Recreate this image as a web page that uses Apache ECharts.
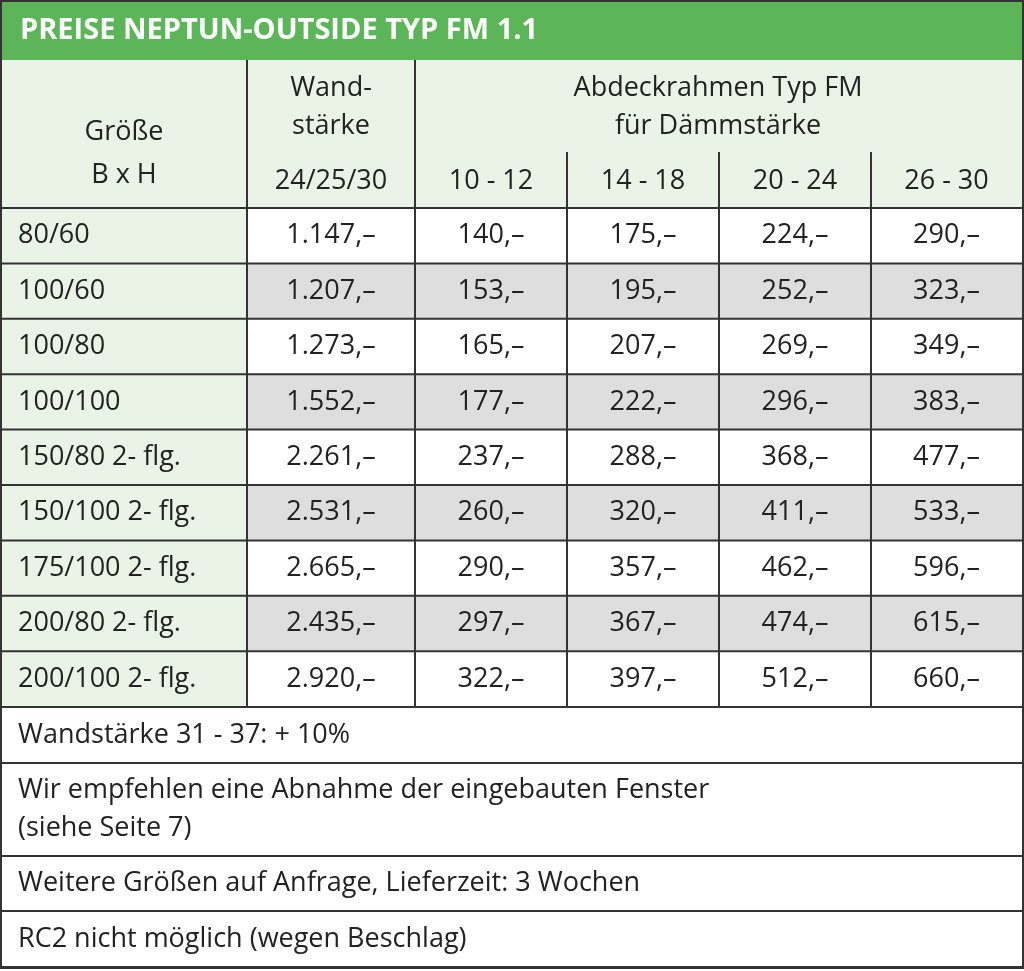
<!DOCTYPE html>
<html>
<head>
<meta charset="utf-8">
<script src="https://cdn.jsdelivr.net/npm/echarts@6/dist/echarts.min.js"></script>
<style>html,body{margin:0;padding:0;background:#fff}#chart{width:1024px;height:971px}</style>
</head>
<body>
<div id="chart"></div>
<script>
var title = 'PREISE NEPTUN-OUTSIDE TYP FM 1.1';
var sizes = ['80/60','100/60','100/80','100/100','150/80 2- flg.','150/100 2- flg.','175/100 2- flg.','200/80 2- flg.','200/100 2- flg.'];
var wall = ['1.147,–','1.207,–','1.273,–','1.552,–','2.261,–','2.531,–','2.665,–','2.435,–','2.920,–'];
var fm1012 = ['140,–','153,–','165,–','177,–','237,–','260,–','290,–','297,–','322,–'];
var fm1418 = ['175,–','195,–','207,–','222,–','288,–','320,–','357,–','367,–','397,–'];
var fm2024 = ['224,–','252,–','269,–','296,–','368,–','411,–','462,–','474,–','512,–'];
var fm2630 = ['290,–','323,–','349,–','383,–','477,–','533,–','596,–','615,–','660,–'];
var subHeads = ['24/25/30','10 - 12','14 - 18','20 - 24','26 - 30'];
var notes = ['Wandstärke 31 - 37: + 10%','Wir empfehlen eine Abnahme der eingebauten Fenster\n(siehe Seite 7)','Weitere Größen auf Anfrage, Lieferzeit: 3 Wochen','RC2 nicht möglich (wegen Beschlag)'];

var cols = [2, 247, 415, 567, 719, 871, 1022];
var rowTop = 208, rowH = 55.4;
var noteY = [707, 763, 856, 911, 967];
var font = '"Open Sans", "Noto Sans", sans-serif';
var line = '#333';
var g = [];

function rect(x, y, w, h, fill) { g.push({type:'rect', shape:{x:x,y:y,width:w,height:h}, style:{fill:fill}, silent:true}); }
function ln(x1, y1, x2, y2) { g.push({type:'line', shape:{x1:x1,y1:y1,x2:x2,y2:y2}, style:{stroke:line,lineWidth:2}, silent:true}); }
function txt(x, y, s, align) {
    g.push({type:'text', x:x, y:y, style:{text:s, font:'27px ' + font, fill:'#222', align:align || 'center', verticalAlign:'middle', lineHeight:38}, silent:true});
}

// Titel
rect(0, 0, 1024, 60, '#5db55a');
g.push({type:'text', x:20, y:31, style:{text:title, font:'bold 29px ' + font, fill:'#fff', verticalAlign:'middle'}});
// Kopf
rect(2, 60, 1020, 148, '#eaf4e6');
rect(2, rowTop, 245, rowH * 9, '#eaf4e6');
var data = [wall, fm1012, fm1418, fm2024, fm2630];
for (var r = 0; r < sizes.length; r++) {
    var y = rowTop + r * rowH;
    if (r % 2 == 1) rect(247, y, 775, rowH, '#dedede');
    txt(18, y + rowH / 2, sizes[r], 'left');
    for (var c = 0; c < data.length; c++) {
        txt((cols[c + 1] + cols[c + 2]) / 2, y + rowH / 2, data[c][r]);
    }
    ln(2, y, 1022, y);
}
txt(124, 132, 'Größe');
txt(124, 175, 'B x H');
txt(331, 88, 'Wand-');
txt(331, 126, 'stärke');
txt(718, 88, 'Abdeckrahmen Typ FM');
txt(718, 126, 'für Dämmstärke');
for (var i = 0; i < subHeads.length; i++) txt((cols[i + 1] + cols[i + 2]) / 2, 181, subHeads[i]);
// Linien
ln(247, 60, 247, 707);
ln(415, 60, 415, 707);
for (var k = 3; k < 6; k++) ln(cols[k], 152, cols[k], 707);
for (var n = 0; n < notes.length; n++) {
    ln(2, noteY[n], 1022, noteY[n]);
    txt(18, (noteY[n] + noteY[n + 1]) / 2, notes[n], 'left');
}
ln(2, 967, 1022, 967);
g.push({type:'rect', shape:{x:1,y:1,width:1022,height:967}, style:{fill:'none', stroke:line, lineWidth:2}, silent:true});

var chart = echarts.init(document.getElementById('chart'));
chart.setOption({ animation:false, graphic:{elements:g} });
</script>
</body>
</html>
